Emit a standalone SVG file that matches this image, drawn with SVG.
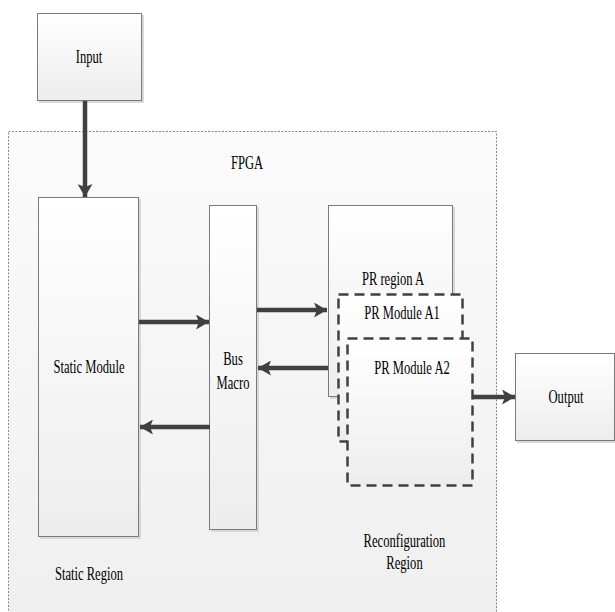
<svg xmlns="http://www.w3.org/2000/svg" width="615" height="612" viewBox="0 0 615 612">
<defs>
<linearGradient id="g" x1="0" y1="0" x2="0" y2="1">
<stop offset="0" stop-color="#ffffff"/>
<stop offset="1" stop-color="#ededed"/>
</linearGradient>
<linearGradient id="gf" x1="0" y1="0" x2="0" y2="1">
<stop offset="0" stop-color="#fbfbfb"/>
<stop offset="1" stop-color="#efefef"/>
</linearGradient>
<marker id="ah" viewBox="0 0 13 15" refX="13" refY="7.5" markerWidth="13" markerHeight="15" markerUnits="userSpaceOnUse" orient="auto">
<path d="M0,0 L13,7.5 L0,15 L3,7.5 Z" fill="#404040"/>
</marker>
</defs>
<style>
.node{fill:url(#g);stroke:#7a7a7a;stroke-width:1}
.sh{fill:#d8d8d8}
.dash{fill:url(#g);stroke:#404040;stroke-width:2.5;stroke-dasharray:10 6}
.t{font-family:"Liberation Serif","Times New Roman",serif;font-size:18px;fill:#000;text-anchor:middle}
.c{fill:none;stroke:#404040;stroke-width:4.5;marker-end:url(#ah)}
</style>
<rect width="615" height="612" fill="#ffffff"/>
<g id="fpga">
<rect x="8.5" y="131.5" width="488" height="490" fill="url(#gf)" stroke="#888" stroke-width="1" stroke-dasharray="2 1.5"/>
<text class="t" transform="matrix(0.7 0 0 1 247 169)">FPGA</text>
<text class="t" transform="matrix(0.7 0 0 1 89 580)">Static Region</text>
<text class="t" transform="matrix(0.7 0 0 1 404.5 547)">Reconfiguration</text>
<text class="t" transform="matrix(0.7 0 0 1 404.5 569)">Region</text>
</g>
<g id="input">
<rect class="sh" x="39" y="15" width="105" height="88"/>
<rect class="node" x="37.5" y="13.5" width="104" height="87"/>
<text class="t" transform="matrix(0.7 0 0 1 89 63)">Input</text>
</g>
<g id="static-module">
<rect class="sh" x="40" y="199" width="101" height="340"/>
<rect class="node" x="38.5" y="197.5" width="100" height="339"/>
<text class="t" transform="matrix(0.7 0 0 1 89 373)">Static Module</text>
</g>
<g id="bus-macro">
<rect class="sh" x="211" y="207" width="48" height="325"/>
<rect class="node" x="209.5" y="205.5" width="47" height="324"/>
<text class="t" transform="matrix(0.7 0 0 1 233 365)">Bus</text>
<text class="t" transform="matrix(0.7 0 0 1 233 389)">Macro</text>
</g>
<g id="pr-region-a">
<rect class="sh" x="330" y="207" width="125" height="192"/>
<rect class="node" x="328.5" y="205.5" width="124" height="191"/>
<text class="t" transform="matrix(0.7 0 0 1 393 285)">PR region A</text>
</g>
<g id="pr-module-a1">
<rect class="dash" x="338.5" y="294.5" width="124" height="147"/>
<text class="t" transform="matrix(0.7 0 0 1 402 319)">PR Module A1</text>
</g>
<g id="pr-module-a2">
<rect class="dash" x="347.5" y="338.5" width="125" height="147"/>
<text class="t" transform="matrix(0.7 0 0 1 412 374)">PR Module A2</text>
</g>
<g id="output">
<rect class="sh" x="517" y="355" width="100" height="88"/>
<rect class="node" x="515.5" y="353.5" width="99" height="87"/>
<text class="t" transform="matrix(0.7 0 0 1 566 403)">Output</text>
</g>
<g id="connectors">
<line class="c" x1="85" y1="101" x2="85" y2="197"/>
<line class="c" x1="139" y1="322" x2="209" y2="322"/>
<line class="c" x1="210" y1="427" x2="140" y2="427"/>
<line class="c" x1="257" y1="310" x2="327" y2="310"/>
<line class="c" x1="328" y1="368" x2="258" y2="368"/>
<line class="c" x1="472" y1="397" x2="515" y2="397"/>
</g>
</svg>
